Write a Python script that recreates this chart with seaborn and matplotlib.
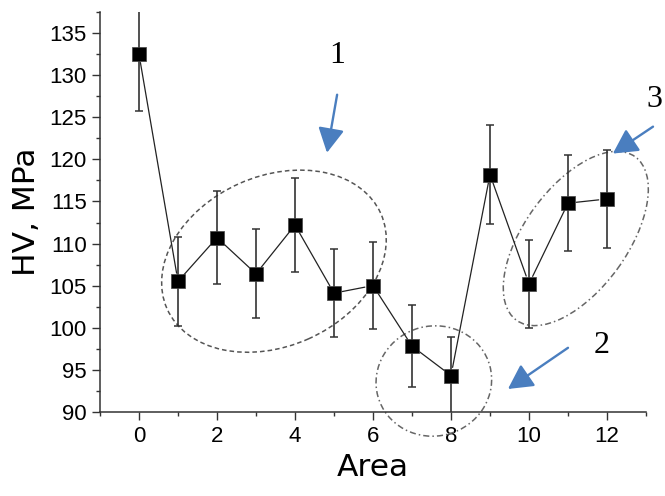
import matplotlib
matplotlib.use("Agg")
import matplotlib.pyplot as plt
import matplotlib.transforms as mtransforms
from matplotlib.patches import Ellipse
from matplotlib.ticker import MultipleLocator
import seaborn as sns

# values
area = [0, 1, 2, 3, 4, 5, 6, 7, 8, 9, 10, 11, 12]
hv = [132.5, 105.5, 110.7, 106.4, 112.2, 104.1, 105.0, 97.8, 94.3, 118.2, 105.2, 114.8, 115.3]
hv_err = [6.7, 5.3, 5.5, 5.3, 5.6, 5.2, 5.2, 4.9, 4.6, 5.9, 5.2, 5.7, 5.8]

# region labels and their arrows (data coords)
region_labels = ["1", "2", "3"]
label_pos = [(5.08, 132.4), (11.87, 97.9), (13.22, 127.1)]
arrow_tail = [(5.08, 127.7), (11.0, 97.6), (13.18, 123.9)]
arrow_tip = [(4.82, 120.8), (9.46, 92.7), (12.15, 120.7)]

sns.set_style("ticks")
plt.rcParams["font.family"] = ["DejaVu Sans"]
plt.rcParams["text.color"] = "black"
plt.rcParams["axes.labelcolor"] = "black"
plt.rcParams["xtick.labelcolor"] = "black"
plt.rcParams["ytick.labelcolor"] = "black"

fig = plt.figure(figsize=(6.65, 4.96), dpi=100)
ax = fig.add_axes([100 / 665, 84.3 / 496, 546 / 665, 399.4 / 496])
ax.set_xlim(-1, 13)
ax.set_ylim(90, 137.5)

# error bars
ax.errorbar(area, hv, yerr=hv_err, fmt="none", ecolor="#333333",
            elinewidth=1.2, capsize=3, capthick=1.1, zorder=3)

# connecting lines with small gaps at the markers
for i in range(len(area) - 1):
    ax.annotate("", xy=(area[i + 1], hv[i + 1]), xytext=(area[i], hv[i]),
                arrowprops=dict(arrowstyle="-", color="#222222", lw=0.9,
                                shrinkA=6, shrinkB=6), zorder=2)

sns.scatterplot(x=area, y=hv, marker="s", s=100, color="black",
                edgecolor="#444444", linewidth=0.5, zorder=4, ax=ax)

# ellipses around the regions (sizes in pixels, centres in data units)
def ring(center, w, h, angle, ls, color):
    cx, cy = ax.transData.transform(center)
    e = Ellipse((0, 0), w, h, angle=angle, fill=False, edgecolor=color,
                linestyle=ls, lw=1.1,
                transform=mtransforms.Affine2D().translate(cx, cy),
                clip_on=False, zorder=1)
    ax.add_artist(e)

ring((3.46, 107.9), 234, 170, 24, (0, (3, 2)), "#555555")
ring((7.56, 93.65), 116, 110, 15, (0, (4, 2, 1, 2)), "#666666")
ring((11.2, 110.6), 202, 103, 54, (0, (4, 2, 1, 2)), "#666666")

for lab, pos, tail, tip in zip(region_labels, label_pos, arrow_tail, arrow_tip):
    ax.text(pos[0], pos[1], lab, family="Liberation Serif", fontsize=23,
            ha="center", va="center", clip_on=False)
    ax.annotate("", xy=tip, xytext=tail, annotation_clip=False,
                arrowprops=dict(arrowstyle="-|>,head_length=0.75,head_width=0.4",
                                color="#4A7EBF", lw=1.7, shrinkA=0, shrinkB=0,
                                mutation_scale=20))

# axes styling
sns.despine(ax=ax)
for side in ["left", "bottom"]:
    ax.spines[side].set_linewidth(1.1)
    ax.spines[side].set_color("#333333")
ax.xaxis.set_major_locator(MultipleLocator(2))
ax.xaxis.set_minor_locator(MultipleLocator(1))
ax.yaxis.set_major_locator(MultipleLocator(5))
ax.yaxis.set_minor_locator(MultipleLocator(2.5))
ax.tick_params(which="major", direction="out", length=5.5, width=1, color="#333333",
               labelsize=16, pad=4)
ax.tick_params(which="minor", direction="out", length=3, width=1, color="#333333")
ax.tick_params(axis="x", which="major", pad=5)
for t in ax.get_xticklabels() + ax.get_yticklabels():
    t.set_family("Liberation Sans")

ax.set_xlabel("Area", fontsize=22.5, labelpad=4)
ax.set_ylabel("HV, MPa", fontsize=22.5, labelpad=6)

fig.savefig("out.png", dpi=100)
